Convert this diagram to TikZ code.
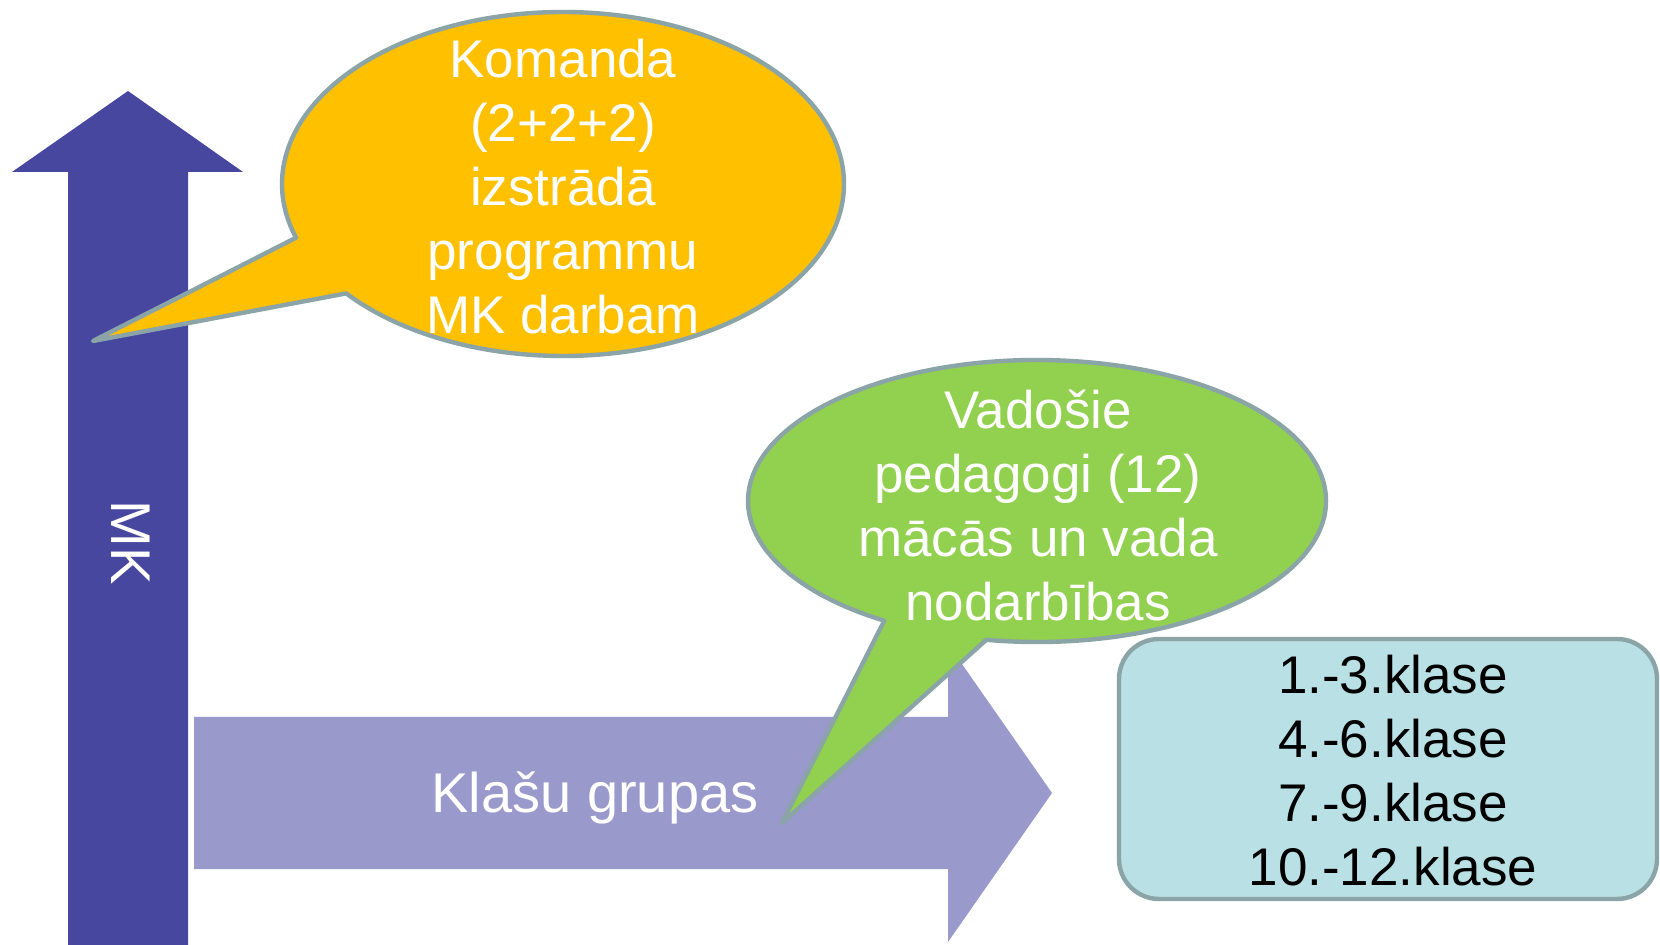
\documentclass[tikz,border=0pt]{standalone}
\usepackage{fontspec}
\setmainfont{Liberation Sans}
\usetikzlibrary{calc}

\definecolor{mkblue}{RGB}{71,71,160}
\definecolor{grouplilac}{RGB}{153,153,204}
\definecolor{teamgold}{RGB}{255,192,0}
\definecolor{leadgreen}{RGB}{146,208,80}
\definecolor{classcyan}{RGB}{185,224,228}
\definecolor{bubbleline}{RGB}{138,164,167}

\tikzset{
  bubble/.style={draw=bubbleline, line width=2.2pt, line join=round},
  bigtext/.style={align=center, inner sep=0pt, font=\fontsize{26.5}{32}\selectfont},
  arrowtext/.style={inner sep=0pt, text=white, font=\fontsize{28}{32}\selectfont},
  classbox/.style={draw=bubbleline, fill=classcyan, line width=2.2pt,
    rounded corners=20pt, minimum width=269pt, minimum height=130pt, bigtext},
}

\begin{document}
\begin{tikzpicture}[x=0.5pt, y=-0.5pt]
  \useasboundingbox (0,0) rectangle (1660,945);

  % MK arrow (up)
  \fill[mkblue] (68,945) -- (68,172) -- (12,172) -- (128,91)
    -- (243,172) -- (188,172) -- (188,945) -- cycle;
  \node[arrowtext, rotate=-90] (mk) at (131,543) {MK};

  % Class group arrow (right)
  \fill[grouplilac] (194,717) -- (948,717) -- (948,644) -- (1052,793)
    -- (948,942) -- (948,869) -- (194,869) -- cycle;
  \node[arrowtext] (grupas) at (595,798) {Klašu grupas};

  % Team callout
  \coordinate (tc) at (563,184);
  \coordinate (ttip) at (93,341);
  \path (tc) ++(161.8:281 and 172) coordinate (ta);
  \path (tc) ++(140.5:281 and 172) coordinate (tb);
  \draw[bubble, fill=teamgold] (ta) -- (ttip) -- (tb)
    arc[start angle=140.5, end angle=-198.2, x radius=281, y radius=172] -- cycle;
  \node[bigtext, text=white] (team) at (563,187)
    {Komanda\\(2+2+2)\\izstrādā\\programmu\\MK darbam};

  % Lead teachers callout
  \coordinate (lc) at (1037,501);
  \coordinate (ltip) at (782,823);
  \path (lc) ++(121.9:289 and 141) coordinate (la);
  \path (lc) ++(100.1:289 and 141) coordinate (lb);
  \draw[bubble, fill=leadgreen] (la) -- (ltip) -- (lb)
    arc[start angle=100.1, end angle=-238.1, x radius=289, y radius=141] -- cycle;
  \node[bigtext, text=white] (lead) at (1038,505)
    {Vadošie\\pedagogi (12)\\mācās un vada\\nodarbības};

  % Class list
  \node[classbox] (klases) at (1388,769) {};
  \node[bigtext] (klasesteksts) at (1393,771)
    {1.-3.klase\\4.-6.klase\\7.-9.klase\\10.-12.klase};
\end{tikzpicture}
\end{document}
